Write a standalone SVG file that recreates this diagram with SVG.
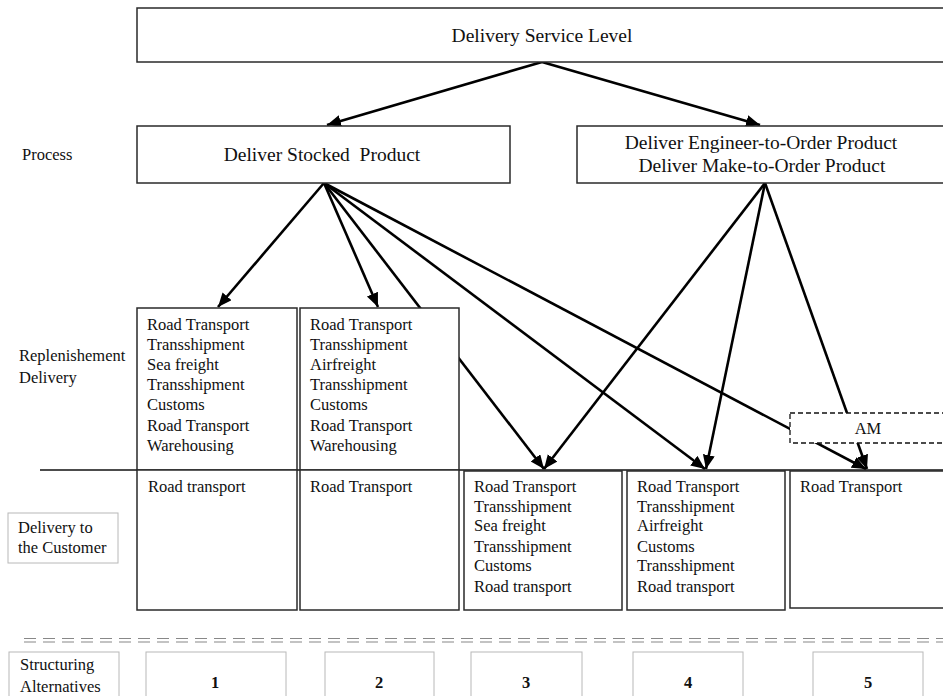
<svg xmlns="http://www.w3.org/2000/svg" width="943" height="696" viewBox="0 0 943 696">
<defs>
<style>
text{font-family:"Liberation Serif","Times New Roman",serif;fill:#111;}
.h{font-size:19.5px;text-anchor:middle;}
.t{font-size:16.5px;}
.n{font-size:16.5px;font-weight:bold;text-anchor:middle;}
.am{font-size:16.5px;text-anchor:middle;}
.box{fill:#fff;stroke:#2a2a2a;stroke-width:1.5;}
.lbl{fill:#fff;stroke:#b8b8b8;stroke-width:1;}
.dash{fill:#fff;stroke:#111;stroke-width:1.3;stroke-dasharray:5,3;}
.c{stroke:#000;stroke-width:2.6;fill:none;}
.ca{stroke:#000;stroke-width:2.6;fill:none;marker-end:url(#ah);}
.dl{stroke:#888;stroke-width:1.2;stroke-dasharray:12,7;fill:none;}
</style>
<marker id="ah" markerUnits="userSpaceOnUse" markerWidth="16" markerHeight="14" refX="14" refY="6" orient="auto">
<path d="M0,0 L14,6 L0,12 z" fill="#000"/>
</marker>
</defs>

<g id="connectors">
<line class="ca" x1="542" y1="62" x2="327" y2="125"/>
<line class="ca" x1="542" y1="62" x2="760" y2="125"/>
<line class="ca" x1="324" y1="183" x2="218" y2="307"/>
<line class="ca" x1="324" y1="183" x2="378" y2="307"/>
<line class="ca" x1="324" y1="183" x2="544" y2="469"/>
<line class="ca" x1="324" y1="183" x2="705" y2="469"/>
<line class="ca" x1="324" y1="183" x2="866" y2="469"/>
<line class="ca" x1="765" y1="183" x2="544" y2="469"/>
<line class="ca" x1="765" y1="183" x2="706" y2="469"/>
<line class="ca" x1="765" y1="183" x2="867" y2="469"/>
</g>

<g id="labels">
<text class="t" x="22" y="160">Process</text>
<text class="t" x="19" y="361">Replenishement</text>
<text class="t" x="19" y="383">Delivery</text>
<line x1="40" y1="470" x2="943" y2="470" stroke="#111" stroke-width="1.5"/>
<line class="dl" x1="24" y1="638.5" x2="943" y2="638.5"/>
<line class="dl" x1="24" y1="642" x2="943" y2="642"/>
</g>

<g id="service-level">
<rect class="box" x="137" y="8" width="815" height="54"/>
<text class="h" x="542" y="42">Delivery Service Level</text>
</g>

<g id="deliver-stocked">
<rect class="box" x="137" y="126" width="373" height="57"/>
<text class="h" x="322" y="161" xml:space="preserve">Deliver Stocked  Product</text>
</g>

<g id="deliver-eto-mto">
<rect class="box" x="577" y="126" width="375" height="57"/>
<text class="h" x="761" y="149">Deliver Engineer-to-Order Product</text>
<text class="h" x="762" y="172">Deliver Make-to-Order Product</text>
</g>

<g id="rep-1">
<rect class="box" x="137" y="308" width="160" height="162"/>
<text class="t" x="147" y="330">Road Transport</text>
<text class="t" x="147" y="350">Transshipment</text>
<text class="t" x="147" y="370">Sea freight</text>
<text class="t" x="147" y="390">Transshipment</text>
<text class="t" x="147" y="410">Customs</text>
<text class="t" x="147" y="431">Road Transport</text>
<text class="t" x="147" y="451">Warehousing</text>
</g>

<g id="rep-2">
<rect class="box" x="300" y="308" width="159" height="162"/>
<text class="t" x="310" y="330">Road Transport</text>
<text class="t" x="310" y="350">Transshipment</text>
<text class="t" x="310" y="370">Airfreight</text>
<text class="t" x="310" y="390">Transshipment</text>
<text class="t" x="310" y="410">Customs</text>
<text class="t" x="310" y="431">Road Transport</text>
<text class="t" x="310" y="451">Warehousing</text>
</g>

<g id="am">
<rect class="dash" x="790" y="413" width="165" height="30"/>
<text class="am" x="868" y="434">AM</text>
</g>

<g id="delivery-to-customer-label">
<rect class="lbl" x="8" y="513" width="110" height="50"/>
<text class="t" x="18" y="533">Delivery to</text>
<text class="t" x="18" y="553">the Customer</text>
</g>

<g id="del-1">
<rect class="box" x="137" y="470" width="160" height="140"/>
<text class="t" x="148" y="492">Road transport</text>
</g>

<g id="del-2">
<rect class="box" x="300" y="470" width="159" height="140"/>
<text class="t" x="310" y="492">Road Transport</text>
</g>

<g id="del-3">
<rect class="box" x="464" y="471" width="158" height="139"/>
<text class="t" x="474" y="492">Road Transport</text>
<text class="t" x="474" y="512">Transshipment</text>
<text class="t" x="474" y="531">Sea freight</text>
<text class="t" x="474" y="552">Transshipment</text>
<text class="t" x="474" y="571">Customs</text>
<text class="t" x="474" y="592">Road transport</text>
</g>

<g id="del-4">
<rect class="box" x="627" y="471" width="158" height="139"/>
<text class="t" x="637" y="492">Road Transport</text>
<text class="t" x="637" y="512">Transshipment</text>
<text class="t" x="637" y="531">Airfreight</text>
<text class="t" x="637" y="552">Customs</text>
<text class="t" x="637" y="571">Transshipment</text>
<text class="t" x="637" y="592">Road transport</text>
</g>

<g id="del-5">
<rect class="box" x="790" y="471" width="165" height="137"/>
<text class="t" x="800" y="492">Road Transport</text>
</g>

<g id="structuring-label">
<rect class="lbl" x="9" y="652" width="110" height="50"/>
<text class="t" x="20" y="670">Structuring</text>
<text class="t" x="20" y="692">Alternatives</text>
</g>

<g id="alt-1">
<rect class="lbl" x="146" y="652" width="140" height="50"/>
<text class="n" x="215" y="688">1</text>
</g>
<g id="alt-2">
<rect class="lbl" x="325" y="652" width="109" height="50"/>
<text class="n" x="379" y="688">2</text>
</g>
<g id="alt-3">
<rect class="lbl" x="471" y="652" width="111" height="50"/>
<text class="n" x="526" y="688">3</text>
</g>
<g id="alt-4">
<rect class="lbl" x="633" y="652" width="110" height="50"/>
<text class="n" x="688" y="688">4</text>
</g>
<g id="alt-5">
<rect class="lbl" x="813" y="652" width="110" height="50"/>
<text class="n" x="868" y="688">5</text>
</g>
</svg>
